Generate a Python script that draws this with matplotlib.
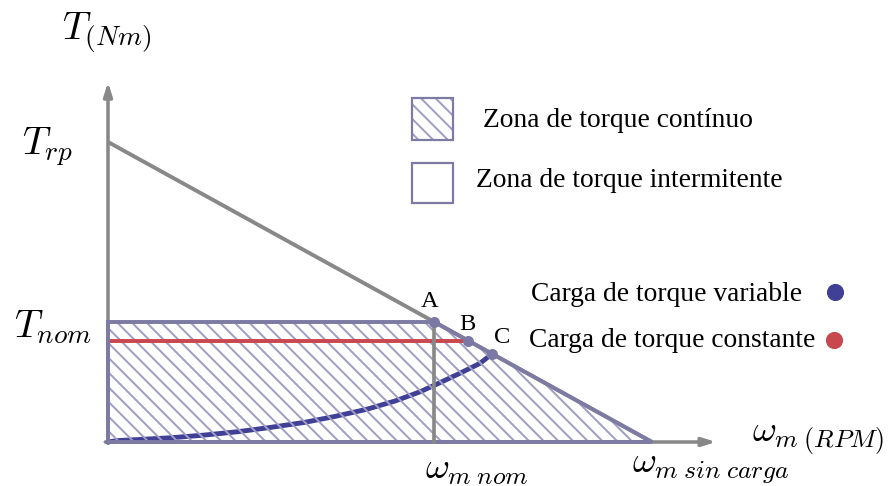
import matplotlib
matplotlib.use("Agg")
import matplotlib.pyplot as plt
from matplotlib.patches import Polygon, Rectangle

# Normalised machine quantities (speed relative to no-load speed, torque relative to nominal)
w_noload = 1.0
w_nom = 0.60
T_rp = 2.5
T_nom = 1.0
w_B = 0.662
w_C = 0.706

# Variable-torque load curve (speed, torque)
load_w = [0.0, 0.018, 0.059, 0.118, 0.178, 0.239, 0.298, 0.362, 0.417,
          0.476, 0.528, 0.574, 0.610, 0.647, 0.684, 0.706]
load_T = [0.0, 0.012, 0.021, 0.036, 0.058, 0.086, 0.121, 0.164, 0.213,
          0.273, 0.342, 0.419, 0.494, 0.573, 0.656, 0.735]


def motor_torque(w):
    return T_rp * (1.0 - w / w_noload)


T_B = motor_torque(w_B)
T_C = motor_torque(w_C)

GRAY = "#888888"
EDGE = "#7d7aa3"
HATCH = "#a09dc4"
BLUE = "#3f4096"
RED = "#c9474f"
DOT = "#7b78a5"

plt.rcParams["mathtext.fontset"] = "cm"
plt.rcParams["hatch.linewidth"] = 1.6
TEXT_FONT = ["Liberation Serif", "DejaVu Serif"]

DPI = 88
fig = plt.figure(figsize=(889 / DPI, 486 / DPI), dpi=DPI)
ax = fig.add_axes([0, 0, 1, 1])
ax.set_xlim(-0.19853, 1.43566)
ax.set_ylim(-0.36667, 3.68333)
ax.axis("off")

# Coordinate axes with arrow heads
arrow = dict(arrowstyle="-|>,head_length=0.9,head_width=0.28", color=GRAY, lw=2.9,
             shrinkA=0, shrinkB=0)
ax.annotate("", xy=(0, 3.0), xytext=(0, -0.01), arrowprops=arrow, zorder=2)
ax.annotate("", xy=(1.118, 0), xytext=(-0.005, 0), arrowprops=arrow, zorder=2)

# Torque-speed characteristic
ax.plot([0, w_noload], [T_rp, 0], color=GRAY, lw=3.2, solid_capstyle="butt", zorder=2)

# Continuous-torque zone
zone = [(0, 0), (0, T_nom), (w_nom, T_nom), (w_noload, 0)]
ax.add_patch(Polygon(zone, closed=True, facecolor="none", edgecolor=HATCH,
                     hatch="\\\\", lw=0, zorder=3))

# Variable-torque load
ax.plot(load_w, load_T, color=BLUE, lw=4, solid_capstyle="round",
        solid_joinstyle="round", zorder=2.5)

# Constant-torque load
ax.plot([0, w_B], [T_B, T_B], color=RED, lw=3.2, solid_capstyle="butt", zorder=3.5)

ax.add_patch(Polygon(zone, closed=True, facecolor="none", edgecolor=EDGE,
                     lw=3.2, joinstyle="miter", zorder=4))

# Nominal speed marker line
ax.plot([w_nom, w_nom], [0, T_nom], color=GRAY, lw=3.0, zorder=4.5)

# Operating points
ax.plot([w_nom, w_B, w_C], [T_nom, T_B, T_C], "o", color=DOT, ms=8, zorder=5)

mfs = 32
wfs = 30
ax.text(-0.002, 3.42, r"$T_{(Nm)}$", fontsize=mfs, ha="center", va="center")
ax.text(-0.112, 2.46, r"$T_{rp}$", fontsize=mfs, ha="center", va="center")
ax.text(-0.101, 0.96, r"$T_{nom}$", fontsize=mfs, ha="center", va="center")
ax.text(1.184, 0.03, r"$\omega_{m\;(RPM)}$", fontsize=wfs, ha="left", va="center")
ax.text(0.678, -0.22, r"$\omega_{m\;nom}$", fontsize=wfs, ha="center", va="center")
ax.text(1.108, -0.21, r"$\omega_{m\;sin\;carga}$", fontsize=wfs, ha="center", va="center")

pfs = 20
ax.text(0.592, 1.17, "A", fontsize=pfs, ha="center", va="center", family=TEXT_FONT)
ax.text(0.660, 0.98, "B", fontsize=pfs, ha="center", va="center", family=TEXT_FONT)
ax.text(0.724, 0.87, "C", fontsize=pfs, ha="center", va="center", family=TEXT_FONT)

# Legend
ax.add_patch(Rectangle((0.559, 2.517), 0.075, 0.35, facecolor="none", edgecolor=HATCH,
                       hatch="\\\\", lw=0, zorder=3))
ax.add_patch(Rectangle((0.559, 2.517), 0.075, 0.35, facecolor="none", edgecolor=EDGE,
                       lw=1.8, zorder=4))
ax.add_patch(Rectangle((0.559, 1.992), 0.075, 0.333, facecolor="none", edgecolor=EDGE,
                       lw=1.8, zorder=4))

lfs = 22.5
ax.text(0.689, 2.675, "Zona de torque contínuo", fontsize=lfs, ha="left", va="center",
        family=TEXT_FONT)
ax.text(0.676, 2.175, "Zona de torque intermitente", fontsize=lfs, ha="left", va="center",
        family=TEXT_FONT)
ax.text(0.778, 1.225, "Carga de torque variable", fontsize=lfs, ha="left", va="center",
        family=TEXT_FONT)
ax.text(0.774, 0.842, "Carga de torque constante", fontsize=lfs, ha="left", va="center",
        family=TEXT_FONT)
ax.plot([1.336], [1.25], "o", color=BLUE, ms=13, zorder=5)
ax.plot([1.335], [0.85], "o", color=RED, ms=13, zorder=5)

fig.savefig("out.png", dpi=DPI)
